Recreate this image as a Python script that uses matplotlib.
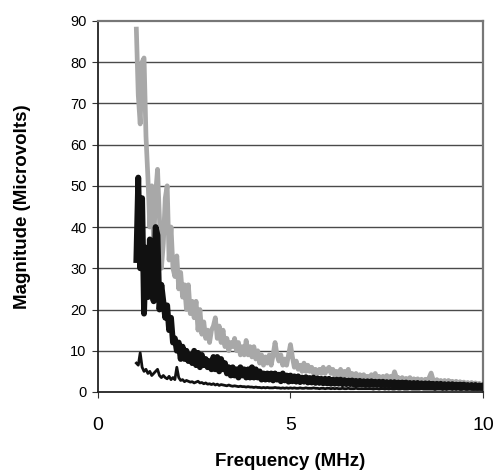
import numpy as np
import matplotlib
matplotlib.use("Agg")
import matplotlib.pyplot as plt

# Frequency grid (MHz), 0.05 MHz spacing from 1 to 10
freq = np.round(np.arange(1.0, 10.0001, 0.05), 2)

grey_trace = [
    88, 72, 65, 80, 81, 62, 52, 40, 50, 36, 48, 54, 42, 30, 36, 47, 50, 32, 40, 30,
    28, 33, 25, 29, 23, 26, 20, 26, 19, 22, 18, 22, 15, 20, 14, 17, 13, 15, 12, 15,
    16, 18, 13, 16, 12, 15, 11, 13, 10, 12, 11, 13, 10, 12, 9, 11, 9, 12.5, 9, 11,
    8.5, 11, 8, 10, 7, 9, 6.5, 8.5, 7, 9, 6.5, 9, 12, 9, 7.5, 9, 6.5, 8, 6.5, 9,
    11.5, 8.5, 6, 7.5, 5.5, 6.5, 5, 7, 5, 6.5, 5, 6, 4.5, 5.5, 4.5, 5.5, 4.5, 6, 4.5, 5.5,
    6, 4.5, 5.5, 4, 5, 4, 5.5, 4, 5, 4, 5.5, 3.8, 4.5, 3.5, 4.5, 3.5, 4.2, 3.3, 4.2, 3.3,
    3.8, 3.3, 4.2, 3.2, 4.5, 3.2, 3.8, 3, 3.8, 3, 4, 3, 3.8, 3.2, 4.9, 3.5, 3.5, 2.8, 3.5, 2.8,
    3.3, 2.8, 3.5, 2.7, 3.2, 2.6, 3.2, 2.6, 3.1, 2.5, 3.1, 2.5, 3.5, 4.6, 3, 2.6, 3.0, 2.4, 2.8, 2.4,
    2.8, 2.3, 2.8, 2.2, 2.6, 2.2, 2.6, 2.1, 2.5, 2.0, 2.4, 2.0, 2.3, 1.9, 2.3, 1.9, 2.2, 1.8, 2.1, 1.8,
    1.9,
]

thick_trace = [
    32, 52, 30, 47, 19, 35, 23, 37, 24, 22, 40, 38, 20, 26, 22, 18, 21, 15, 18, 12,
    13, 10, 12, 8, 11, 8, 10, 7.5, 9, 7, 10, 6.5, 9.5, 6, 9, 6.5, 8, 6, 7.5, 5.5,
    8.5, 5.5, 8.5, 5, 8, 5.5, 7, 4.5, 6, 4, 6, 4, 5.5, 3.5, 6, 4, 5.5, 3.5, 5.5, 3.5,
    6, 3.5, 5.5, 3.5, 5, 3, 4.5, 3, 4.5, 3, 4.5, 2.8, 4.5, 3, 4.2, 2.6, 4.5, 2.8, 4, 2.5,
    4, 2.6, 3.8, 2.5, 3.8, 2.4, 3.5, 2.5, 3.6, 2.3, 3.4, 2.3, 3.5, 2.2, 3.3, 2.2, 3.2, 2.1, 3.2, 2.1,
    3.2, 2, 3, 2, 3, 2, 3, 1.9, 2.9, 1.9, 2.8, 1.9, 2.8, 1.8, 2.7, 1.8, 2.7, 1.8, 2.6, 1.7,
    2.6, 1.7, 2.6, 1.7, 2.5, 1.7, 2.5, 1.6, 2.5, 1.6, 2.4, 1.6, 2.4, 1.6, 2.4, 1.5, 2.3, 1.5, 2.3, 1.5,
    2.3, 1.5, 2.2, 1.5, 2.2, 1.4, 2.2, 1.4, 2.1, 1.4, 2.1, 1.4, 2.1, 1.3, 2.0, 1.3, 2.0, 1.3, 2.0, 1.3,
    1.9, 1.3, 1.9, 1.2, 1.9, 1.2, 1.8, 1.2, 1.8, 1.2, 1.8, 1.2, 1.7, 1.1, 1.7, 1.1, 1.7, 1.1, 1.6, 1.1,
    1.5,
]

thin_trace = [
    7, 6.5, 9.5, 6, 5, 5.5, 4.5, 5, 4, 4.5, 5, 5.5, 4, 3.5, 4, 3.5, 3.2, 3.8, 3, 3.5,
    3, 6, 3.5, 2.8, 3, 2.5, 2.8, 2.6, 2.4, 2.5, 2.2, 2.4, 2.6, 2.2, 2.3, 2.0, 2.2, 1.9, 2.0, 1.8,
    2.0, 1.7, 1.9, 1.6, 1.8, 1.7, 1.6, 1.5, 1.7, 1.5, 1.4, 1.5, 1.4, 1.3, 1.4, 1.3, 1.3, 1.2, 1.3, 1.2,
    1.2, 1.1, 1.2, 1.1, 1.1, 1.0, 1.1, 1.0, 1.1, 1.0, 1.0, 1.0, 1.1, 1.0, 1.0, 0.9, 1.0, 0.9, 1.0, 0.9,
    1.0, 0.9, 1.0, 0.9, 0.9, 1.0, 0.9, 0.9, 1.0, 0.9, 0.9, 0.9, 1.0, 0.9, 0.9, 0.8, 0.9, 0.9, 0.8, 0.9,
    0.9, 0.8, 0.9, 0.8, 0.9, 0.8, 0.8, 0.9, 0.8, 0.8, 0.9, 0.8, 0.8, 0.8, 0.9, 0.8, 0.8, 0.8, 0.8, 0.8,
    0.8, 0.8, 0.8, 0.7, 0.8, 0.8, 0.7, 0.8, 0.8, 0.7, 0.8, 0.7, 0.8, 0.7, 0.7, 0.8, 0.7, 0.7, 0.8, 0.7,
    0.7, 0.7, 0.8, 0.7, 0.7, 0.7, 0.7, 0.7, 0.8, 0.7, 0.7, 0.7, 0.7, 0.7, 0.7, 0.6, 0.7, 0.7, 0.7, 0.6,
    0.7, 0.6, 0.7, 0.7, 0.6, 0.7, 0.6, 0.7, 0.6, 0.6, 0.7, 0.6, 0.6, 0.7, 0.6, 0.6, 0.6, 0.6, 0.6, 0.6,
    0.6,
]

x_ticks = [0, 5, 10]
y_ticks = [0, 10, 20, 30, 40, 50, 60, 70, 80, 90]

plt.rcParams['font.family'] = ['Liberation Sans', 'DejaVu Sans']

fig = plt.figure(figsize=(4.94, 4.74), dpi=100)
ax = fig.add_axes([0.198, 0.173, 0.780, 0.783])

for y in y_ticks[1:-1]:
    ax.axhline(y, color='#4a4a4a', lw=1.0, zorder=1)

ax.plot(freq, grey_trace, color='#a8a8a8', lw=3.4, zorder=2, solid_joinstyle='round')
ax.plot(freq, thick_trace, color='#111111', lw=4.2, zorder=3, solid_joinstyle='round')
ax.plot(freq, thin_trace, color='#111111', lw=2.0, zorder=4, solid_joinstyle='round')

ax.set_xlim(0, 10)
ax.set_ylim(0, 90)
ax.set_xticks(x_ticks)
ax.set_yticks(y_ticks)
ax.set_xticklabels([str(v) for v in x_ticks], fontsize=14)
ax.set_yticklabels([str(v) for v in y_ticks], fontsize=10.5)
ax.tick_params(axis='x', direction='out', length=4, pad=14, color='#333333')
ax.tick_params(axis='y', direction='out', length=4, pad=4, color='#333333')

for side in ['left', 'bottom']:
    ax.spines[side].set_color('#222222')
    ax.spines[side].set_linewidth(1.3)
for side in ['top', 'right']:
    ax.spines[side].set_color('#777777')
    ax.spines[side].set_linewidth(1.6)

ax.set_xlabel('Frequency (MHz)', fontsize=13.5, fontweight='bold', labelpad=14)
ax.set_ylabel('Magnitude (Microvolts)', fontsize=13.5, fontweight='bold', labelpad=28)

fig.savefig('out.png', dpi=100)
